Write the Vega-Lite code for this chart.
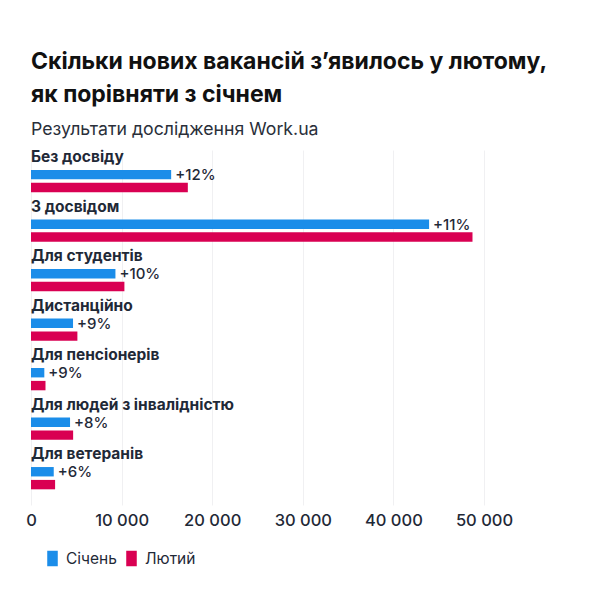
{
  "$schema": "https://vega.github.io/schema/vega-lite/v6.json",
  "width": 453,
  "height": 355,
  "padding": {"left": 25, "top": 51, "right": 20, "bottom": 20},
  "background": "white",
  "title": {
    "text": ["Скільки нових вакансій з’явилось у лютому,", "як порівняти з січнем"],
    "subtitle": "Результати дослідження Work.ua",
    "anchor": "start",
    "frame": "group",
    "font": "Inter",
    "fontSize": 23,
    "fontWeight": "bold",
    "color": "#111111",
    "lineHeight": 33,
    "subtitleFont": "Inter",
    "subtitleFontSize": 17.7,
    "subtitleColor": "#2a2f3a",
    "subtitlePadding": 14,
    "offset": 11
  },
  "data": {
    "values": [
      {"cat": "Без досвіду", "month": "Січень", "value": 15470, "change": "+12%"},
      {"cat": "Без досвіду", "month": "Лютий", "value": 17310, "change": "+12%"},
      {"cat": "З досвідом", "month": "Січень", "value": 43940, "change": "+11%"},
      {"cat": "З досвідом", "month": "Лютий", "value": 48730, "change": "+11%"},
      {"cat": "Для студентів", "month": "Січень", "value": 9320, "change": "+10%"},
      {"cat": "Для студентів", "month": "Лютий", "value": 10310, "change": "+10%"},
      {"cat": "Дистанційно", "month": "Січень", "value": 4640, "change": "+9%"},
      {"cat": "Дистанційно", "month": "Лютий", "value": 5120, "change": "+9%"},
      {"cat": "Для пенсіонерів", "month": "Січень", "value": 1470, "change": "+9%"},
      {"cat": "Для пенсіонерів", "month": "Лютий", "value": 1600, "change": "+9%"},
      {"cat": "Для людей з інвалідністю", "month": "Січень", "value": 4310, "change": "+8%"},
      {"cat": "Для людей з інвалідністю", "month": "Лютий", "value": 4650, "change": "+8%"},
      {"cat": "Для ветеранів", "month": "Січень", "value": 2510, "change": "+6%"},
      {"cat": "Для ветеранів", "month": "Лютий", "value": 2660, "change": "+6%"}
    ]
  },
  "encoding": {
    "y": {
      "field": "cat",
      "type": "nominal",
      "sort": ["Без досвіду", "З досвідом", "Для студентів", "Дистанційно", "Для пенсіонерів", "Для людей з інвалідністю", "Для ветеранів"],
      "scale": {"paddingInner": 0.55, "paddingOuter": 0.36, "align": 0.56},
      "axis": null
    }
  },
  "layer": [
    {
      "mark": {"type": "bar", "cornerRadius": 0},
      "encoding": {
        "x": {
          "field": "value",
          "type": "quantitative",
          "scale": {"domain": [0, 50000], "nice": false},
          "axis": {
            "title": null,
            "values": [0, 10000, 20000, 30000, 40000, 50000],
            "labelExpr": "replace(format(datum.value, ','), ',', ' ')",
            "labelFlush": false,
            "labelOverlap": false,
            "grid": true,
            "gridColor": "#f0f0f2",
            "domain": false,
            "ticks": false,
            "labelFont": "Inter",
            "labelFontSize": 16.5,
            "labelFontWeight": 500,
            "labelColor": "#1f2937",
            "labelPadding": 7
          }
        },
        "yOffset": {
          "field": "month",
          "type": "nominal",
          "sort": ["Січень", "Лютий"],
          "scale": {"paddingInner": 0.27, "paddingOuter": 0}
        },
        "color": {
          "field": "month",
          "type": "nominal",
          "sort": ["Січень", "Лютий"],
          "scale": {"domain": ["Січень", "Лютий"], "range": ["#1b8de9", "#d90052"]},
          "legend": {
            "title": null,
            "orient": "none",
            "legendX": 13,
            "legendY": 400,
            "direction": "horizontal",
            "symbolType": "M-0.68,-1H0.68V1H-0.68Z",
            "symbolSize": 240,
            "symbolOpacity": 1,
            "labelFont": "Inter",
            "labelFontSize": 15.5,
            "labelColor": "#1f2937",
            "labelOffset": 5,
            "columnPadding": 6
          }
        }
      }
    },
    {
      "transform": [{"filter": "datum.month === 'Січень'"}],
      "mark": {"type": "text", "align": "left", "baseline": "middle", "dy": -24, "font": "Inter", "fontSize": 15.5, "fontWeight": "bold", "color": "#1f2937"},
      "encoding": {
        "x": {"datum": 0},
        "text": {"field": "cat"}
      }
    },
    {
      "transform": [{"filter": "datum.month === 'Січень'"}],
      "mark": {"type": "text", "align": "left", "baseline": "middle", "dx": 4, "dy": -6, "font": "Inter", "fontSize": 15, "fontWeight": 500, "color": "#1f2937"},
      "encoding": {
        "x": {"field": "value", "type": "quantitative"},
        "text": {"field": "change"}
      }
    }
  ],
  "config": {"view": {"stroke": null}}
}
